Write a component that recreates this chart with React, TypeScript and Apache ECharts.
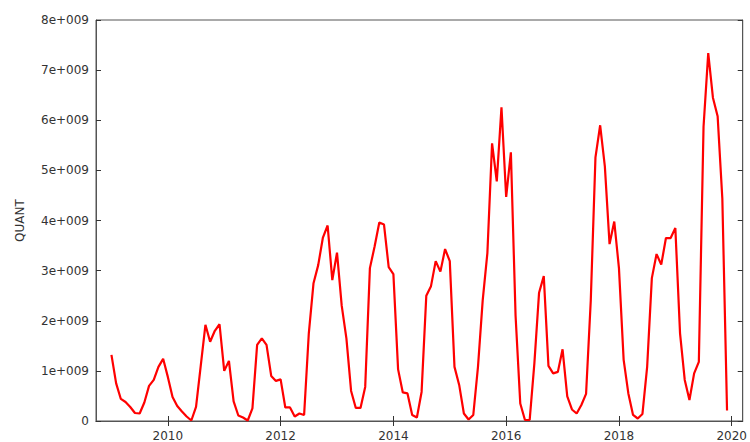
import React, { useEffect, useRef } from "react";
import * as echarts from "echarts";

// Monthly values (in units of 1e9), Jan..Dec of each year
const years = [2009, 2010, 2011, 2012, 2013, 2014, 2015, 2016, 2017, 2018, 2019];
const v2009 = [1.32, 0.75, 0.44, 0.38, 0.28, 0.16, 0.15, 0.37, 0.70, 0.82, 1.08, 1.24];
const v2010 = [0.88, 0.48, 0.30, 0.19, 0.09, 0.01, 0.28, 1.10, 1.92, 1.58, 1.80, 1.93];
const v2011 = [1.00, 1.20, 0.39, 0.11, 0.07, 0.01, 0.25, 1.52, 1.65, 1.52, 0.90, 0.80];
const v2012 = [0.83, 0.27, 0.27, 0.09, 0.15, 0.12, 1.75, 2.75, 3.11, 3.66, 3.90, 2.81];
const v2013 = [3.36, 2.30, 1.65, 0.60, 0.26, 0.26, 0.68, 3.05, 3.48, 3.96, 3.92, 3.07];
const v2014 = [2.93, 1.03, 0.57, 0.55, 0.12, 0.07, 0.58, 2.50, 2.69, 3.19, 2.98, 3.43];
const v2015 = [3.19, 1.08, 0.72, 0.15, 0.03, 0.12, 1.08, 2.40, 3.35, 5.54, 4.78, 6.26];
const v2016 = [4.47, 5.36, 2.10, 0.35, 0.02, 0.02, 1.15, 2.56, 2.89, 1.10, 0.95, 0.98];
const v2017 = [1.43, 0.49, 0.23, 0.15, 0.32, 0.54, 2.40, 5.26, 5.90, 5.08, 3.53, 3.98];
const v2018 = [3.05, 1.22, 0.55, 0.12, 0.05, 0.14, 1.08, 2.85, 3.33, 3.12, 3.65, 3.65];
const v2019 = [3.85, 1.75, 0.82, 0.42, 0.95, 1.18, 5.87, 7.34, 6.45, 6.08, 4.44, 0.21];
const yearValues = [v2009, v2010, v2011, v2012, v2013, v2014, v2015, v2016, v2017, v2018, v2019];

const xTicks = [2010, 2012, 2014, 2016, 2018, 2020];
const yAxisName = "QUANT";

export default function App() {
  const ref = useRef<HTMLDivElement>(null);
  useEffect(() => {
    document.body.style.margin = "0";
    if (!ref.current) return;
    const chart = echarts.init(ref.current, null, { renderer: "svg" });
    const data: [number, number][] = [];
    years.forEach((y, i) => {
      yearValues[i].forEach((v, m) => data.push([y + m / 12, v * 1e9]));
    });
    const font = "DejaVu Sans";
    const lineColor = "#555";
    const xMin = 2008.726;
    const xMax = 2020.195;
    const xBase = {
      type: "value",
      min: xMin,
      max: xMax,
      splitLine: { show: false },
      axisLine: { show: true, lineStyle: { color: lineColor, width: 1 } },
    };
    const yBase = {
      type: "value",
      min: 0,
      max: 8e9,
      interval: 1e9,
      splitLine: { show: false },
      axisLine: { show: true, lineStyle: { color: lineColor, width: 1 } },
    };
    chart.setOption({
      animation: false,
      backgroundColor: "#fff",
      grid: {
        left: 96,
        right: 6,
        top: 20,
        bottom: 21,
        show: true,
        borderColor: lineColor,
        borderWidth: 1,
      },
      xAxis: [
        {
          ...xBase,
          position: "bottom",
          axisTick: {
            show: true,
            inside: true,
            length: 5,
            customValues: xTicks,
            lineStyle: { color: "#333" },
          },
          axisLabel: {
            customValues: xTicks,
            color: "#333",
            fontFamily: font,
            fontSize: 12,
            margin: 9,
            formatter: (v: number) => String(Math.round(v)),
          },
        },
        {
          ...xBase,
          position: "top",
          axisTick: {
            show: true,
            inside: true,
            length: 5,
            customValues: xTicks,
            lineStyle: { color: "#333" },
          },
          axisLabel: { show: false },
        },
      ],
      yAxis: [
        {
          ...yBase,
          position: "left",
          name: yAxisName,
          nameLocation: "middle",
          nameRotate: 90,
          nameGap: 70,
          nameTextStyle: { color: "#333", fontFamily: font, fontSize: 12 },
          axisTick: { show: true, inside: true, length: 5, lineStyle: { color: "#333" } },
          axisLabel: {
            color: "#333",
            fontFamily: font,
            fontSize: 12,
            margin: 7,
            formatter: (v: number) => (v === 0 ? "0" : `${Math.round(v / 1e9)}e+009`),
          },
        },
        {
          ...yBase,
          position: "right",
          axisTick: { show: true, inside: true, length: 5, lineStyle: { color: "#333" } },
          axisLabel: { show: false },
        },
      ],
      series: [
        {
          type: "line",
          data,
          xAxisIndex: 0,
          yAxisIndex: 0,
          showSymbol: false,
          symbol: "none",
          lineStyle: { color: "#f00", width: 2.2 },
        },
      ],
    });
    return () => chart.dispose();
  }, []);
  return <div ref={ref} style={{ width: 750, height: 442 }} />;
}
